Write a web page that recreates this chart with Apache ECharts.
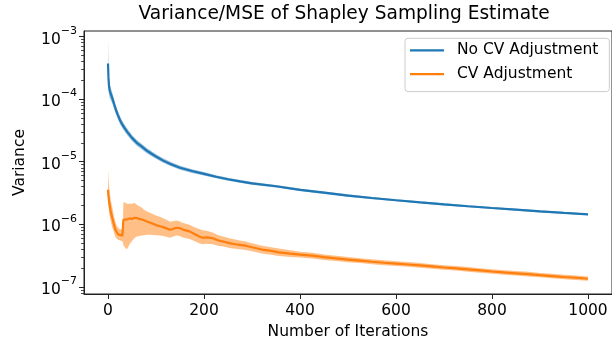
<!DOCTYPE html>
<html>
<head>
<meta charset="utf-8">
<script src="https://cdn.jsdelivr.net/npm/echarts@6/dist/echarts.min.js"></script>
<style>html,body{margin:0;padding:0;background:#fff;}#c{width:612px;height:345px;}</style>
</head>
<body>
<div id="c"></div>
<script>
// ---- data ----
const title = 'Variance/MSE of Shapley Sampling Estimate';
const xLabel = 'Number of Iterations';
const yLabel = 'Variance';
const seriesNames = ['No CV Adjustment', 'CV Adjustment'];
const xTicks = [0, 200, 400, 600, 800, 1000];
const yTicks = [1e-7, 1e-6, 1e-5, 1e-4, 1e-3];

const blueX = [0,1,2,3,4,6,8,10,13,16,20,25,30,35,40,50,60,70,80,90,100,115,130,150,175,200,225,250,275,300,350,400,450,500,550,600,650,700,750,800,850,900,950,1000];
const blueMean = [3.7e-4,2.2e-4,1.65e-4,1.45e-4,1.33e-4,1.2e-4,1.09e-4,9.8e-5,8.2e-5,6.9e-5,5.7e-5,4.6e-5,3.9e-5,3.4e-5,3.0e-5,2.4e-5,2.0e-5,1.75e-5,1.52e-5,1.35e-5,1.21e-5,1.04e-5,9.2e-6,8.0e-6,7.1e-6,6.4e-6,5.75e-6,5.25e-6,4.85e-6,4.5e-6,4.05e-6,3.55e-6,3.2e-6,2.88e-6,2.63e-6,2.42e-6,2.24e-6,2.08e-6,1.94e-6,1.82e-6,1.71e-6,1.61e-6,1.52e-6,1.44e-6];
const blueUpper = [9.0e-4,3.3e-4,2.3e-4,1.9e-4,1.7e-4,1.5e-4,1.33e-4,1.18e-4,9.7e-5,8.1e-5,6.6e-5,5.3e-5,4.45e-5,3.85e-5,3.38e-5,2.68e-5,2.22e-5,1.93e-5,1.67e-5,1.48e-5,1.32e-5,1.13e-5,9.95e-6,8.6e-6,7.6e-6,6.82e-6,6.1e-6,5.56e-6,5.12e-6,4.74e-6,4.25e-6,3.72e-6,3.35e-6,3.01e-6,2.74e-6,2.52e-6,2.33e-6,2.16e-6,2.01e-6,1.89e-6,1.77e-6,1.67e-6,1.57e-6,1.49e-6];
const blueLower = [2.2e-4,1.5e-4,1.18e-4,1.09e-4,1.03e-4,9.5e-5,8.8e-5,8.1e-5,6.9e-5,5.85e-5,4.9e-5,4.0e-5,3.42e-5,3.0e-5,2.66e-5,2.14e-5,1.8e-5,1.58e-5,1.38e-5,1.23e-5,1.11e-5,9.6e-6,8.5e-6,7.45e-6,6.62e-6,6.0e-6,5.42e-6,4.96e-6,4.6e-6,4.28e-6,3.86e-6,3.39e-6,3.06e-6,2.76e-6,2.52e-6,2.33e-6,2.16e-6,2.0e-6,1.87e-6,1.75e-6,1.65e-6,1.55e-6,1.47e-6,1.39e-6];

const orangeX = [0,1,2,4,6,8,10,12,15,18,22,26,30,31,32,34,36,39,42,45,50,55,60,65,70,75,81,90,100,108,115,122,129,135,142,149,155,162,170,180,190,197,205,218,230,240,253,265,275,287,300,321,340,356,380,400,425,450,475,500,525,550,575,600,625,650,675,700,725,750,775,800,825,850,875,900,925,950,975,1000];
const orangeMean = [3.56e-6,2.8e-6,2.4e-6,1.9e-6,1.55e-6,1.34e-6,1.18e-6,1.02e-6,8.4e-7,7.5e-7,6.85e-7,6.7e-7,6.6e-7,6.6e-7,1.18e-6,1.19e-6,1.2e-6,1.2e-6,1.22e-6,1.24e-6,1.22e-6,1.27e-6,1.26e-6,1.22e-6,1.2e-6,1.16e-6,1.11e-6,1.05e-6,9.7e-7,9.3e-7,9.0e-7,8.6e-7,8.2e-7,8.4e-7,8.8e-7,8.7e-7,8.3e-7,8.0e-7,7.7e-7,7.0e-7,6.4e-7,6.1e-7,6.2e-7,6.0e-7,5.5e-7,5.3e-7,5.0e-7,4.8e-7,4.7e-7,4.55e-7,4.3e-7,3.95e-7,3.75e-7,3.57e-7,3.4e-7,3.28e-7,3.15e-7,2.98e-7,2.85e-7,2.72e-7,2.62e-7,2.52e-7,2.43e-7,2.36e-7,2.28e-7,2.2e-7,2.12e-7,2.04e-7,1.98e-7,1.9e-7,1.83e-7,1.76e-7,1.7e-7,1.65e-7,1.6e-7,1.54e-7,1.49e-7,1.44e-7,1.4e-7,1.35e-7];
const orangeUpper = [7.5e-6,5.5e-6,4.2e-6,3.0e-6,2.4e-6,2.0e-6,1.7e-6,1.4e-6,1.12e-6,9.6e-7,8.6e-7,8.3e-7,8.2e-7,8.2e-7,2.2e-6,2.25e-6,2.2e-6,2.15e-6,2.1e-6,2.15e-6,2.1e-6,2.2e-6,2.05e-6,1.95e-6,1.85e-6,1.7e-6,1.6e-6,1.5e-6,1.38e-6,1.32e-6,1.25e-6,1.18e-6,1.1e-6,1.12e-6,1.15e-6,1.12e-6,1.06e-6,1.02e-6,9.8e-7,9.0e-7,8.4e-7,8.0e-7,7.9e-7,7.4e-7,6.7e-7,6.4e-7,6.0e-7,5.7e-7,5.5e-7,5.3e-7,5.0e-7,4.55e-7,4.3e-7,4.1e-7,3.85e-7,3.65e-7,3.5e-7,3.3e-7,3.15e-7,3.0e-7,2.88e-7,2.77e-7,2.66e-7,2.58e-7,2.49e-7,2.4e-7,2.31e-7,2.22e-7,2.15e-7,2.07e-7,1.99e-7,1.91e-7,1.85e-7,1.79e-7,1.74e-7,1.67e-7,1.62e-7,1.56e-7,1.52e-7,1.46e-7];
const orangeLower = [2.4e-6,1.9e-6,1.6e-6,1.3e-6,1.1e-6,9.5e-7,8.5e-7,7.5e-7,6.4e-7,5.9e-7,5.6e-7,5.5e-7,5.3e-7,5.2e-7,4.6e-7,4.4e-7,4.2e-7,4.0e-7,4.3e-7,4.8e-7,5.4e-7,6.0e-7,6.4e-7,6.5e-7,6.6e-7,6.7e-7,6.8e-7,6.8e-7,6.7e-7,6.6e-7,6.5e-7,6.3e-7,6.1e-7,6.3e-7,6.6e-7,6.5e-7,6.2e-7,6.0e-7,5.8e-7,5.4e-7,5.0e-7,4.8e-7,4.9e-7,4.8e-7,4.5e-7,4.4e-7,4.2e-7,4.05e-7,4.0e-7,3.9e-7,3.7e-7,3.4e-7,3.25e-7,3.12e-7,3.0e-7,2.95e-7,2.85e-7,2.7e-7,2.6e-7,2.48e-7,2.4e-7,2.3e-7,2.22e-7,2.16e-7,2.09e-7,2.02e-7,1.95e-7,1.88e-7,1.82e-7,1.75e-7,1.68e-7,1.62e-7,1.57e-7,1.52e-7,1.47e-7,1.42e-7,1.37e-7,1.33e-7,1.29e-7,1.25e-7];

// ---- build ----
const FONT = 'DejaVu Sans';
const FS = 15.5;
const BLUE = '#1f77b4', ORANGE = '#ff7f0e';
const pairs = (xs, ys) => xs.map((x, i) => [x, ys[i]]);

const minorTicks = [];
for (let e = -8; e <= -4; e++) for (let m = 2; m <= 9; m++) minorTicks.push(m * Math.pow(10, e));

const yMin = 7.70e-8, yMax = 1.2236e-3;

function band(name, xs, lo, hi, color) {
  const data = xs.map((x, i) => [x, lo[i], hi[i]]);
  return {
    name: name, type: 'custom', data: data, silent: true, z: 1, clip: true,
    encode: { x: 0, y: [1, 2] },
    renderItem: function (params, api) {
      if (params.dataIndex !== 0) return null;
      const top = data.map(d => api.coord([d[0], d[2]]));
      const bot = data.map(d => api.coord([d[0], d[1]])).reverse();
      return { type: 'polygon', shape: { points: top.concat(bot) }, style: { fill: color, stroke: null } };
    }
  };
}

const chart = echarts.init(document.getElementById('c'), null, { renderer: 'canvas' });
chart.setOption({
  animation: false,
  title: { text: title, left: 138.5, top: 5, padding: 0,
    textStyle: { fontFamily: FONT, fontSize: 18.6, fontWeight: 'normal', color: '#000' } },
  grid: { left: 84, right: -4, top: 31, bottom: 50.5, show: true, borderColor: '#222', borderWidth: 1, backgroundColor: 'transparent' },
  legend: {
    data: seriesNames, orient: 'vertical', left: 405, top: 38.3,
    padding: [4, 11, 9.5, 5], itemGap: 7.8, itemWidth: 34, itemHeight: 2.2, icon: 'rect',
    backgroundColor: 'rgba(255,255,255,0.8)', borderColor: '#cccccc', borderWidth: 1, borderRadius: 3,
    textStyle: { fontFamily: FONT, fontSize: FS, color: '#000', lineHeight: 15.5, padding: [0, 0, 0, 8] }
  },
  xAxis: {
    type: 'value', min: -50, max: 1050,
    name: xLabel, nameLocation: 'middle', nameGap: 30,
    nameTextStyle: { fontFamily: FONT, fontSize: FS, color: '#000' },
    axisLine: { show: true, onZero: false, lineStyle: { color: '#222', width: 1 } },
    axisTick: { show: true, length: 5, customValues: xTicks, lineStyle: { color: '#222' } },
    axisLabel: { customValues: xTicks, margin: 9, fontFamily: FONT, fontSize: FS, color: '#000',
      formatter: function (v) { return String(v); } },
    splitLine: { show: false }
  },
  yAxis: [{
    type: 'log', logBase: 10, min: yMin, max: yMax,
    name: yLabel, nameLocation: 'middle', nameGap: 56,
    nameTextStyle: { fontFamily: FONT, fontSize: FS, color: '#000' },
    axisLine: { show: true, onZero: false, lineStyle: { color: '#222', width: 1 } },
    axisTick: { show: true, length: 5, customValues: yTicks, lineStyle: { color: '#222' } },
    axisLabel: {
      customValues: yTicks, margin: 7,
      formatter: function (v) { const e = Math.round(Math.log10(v)); return '{b|10}{s|\u2212' + (-e) + '}'; },
      rich: {
        b: { fontFamily: FONT, fontSize: FS, color: '#000', lineHeight: 22, verticalAlign: 'bottom' },
        s: { fontFamily: FONT, fontSize: 11, color: '#000', lineHeight: 11, verticalAlign: 'top' }
      }
    },
    splitLine: { show: false }, minorTick: { show: false }
  }, {
    type: 'log', logBase: 10, min: yMin, max: yMax, position: 'left', offset: 0,
    axisLine: { show: false, onZero: false },
    axisTick: { show: true, length: 3, customValues: minorTicks, lineStyle: { color: '#222', width: 0.8 } },
    axisLabel: { show: false }, splitLine: { show: false }
  }],
  series: [
    band('blueBand', blueX, blueLower, blueUpper, 'rgba(31,119,180,0.45)'),
    band('orangeBand', orangeX, orangeLower, orangeUpper, 'rgba(255,127,14,0.5)'),
    { name: seriesNames[0], type: 'line', data: pairs(blueX, blueMean), showSymbol: false, symbol: 'none',
      color: BLUE, lineStyle: { color: BLUE, width: 2.2 }, z: 3 },
    { name: seriesNames[1], type: 'line', data: pairs(orangeX, orangeMean), showSymbol: false, symbol: 'none',
      color: ORANGE, lineStyle: { color: ORANGE, width: 2.2 }, z: 3 }
  ]
});
</script>
</body>
</html>
